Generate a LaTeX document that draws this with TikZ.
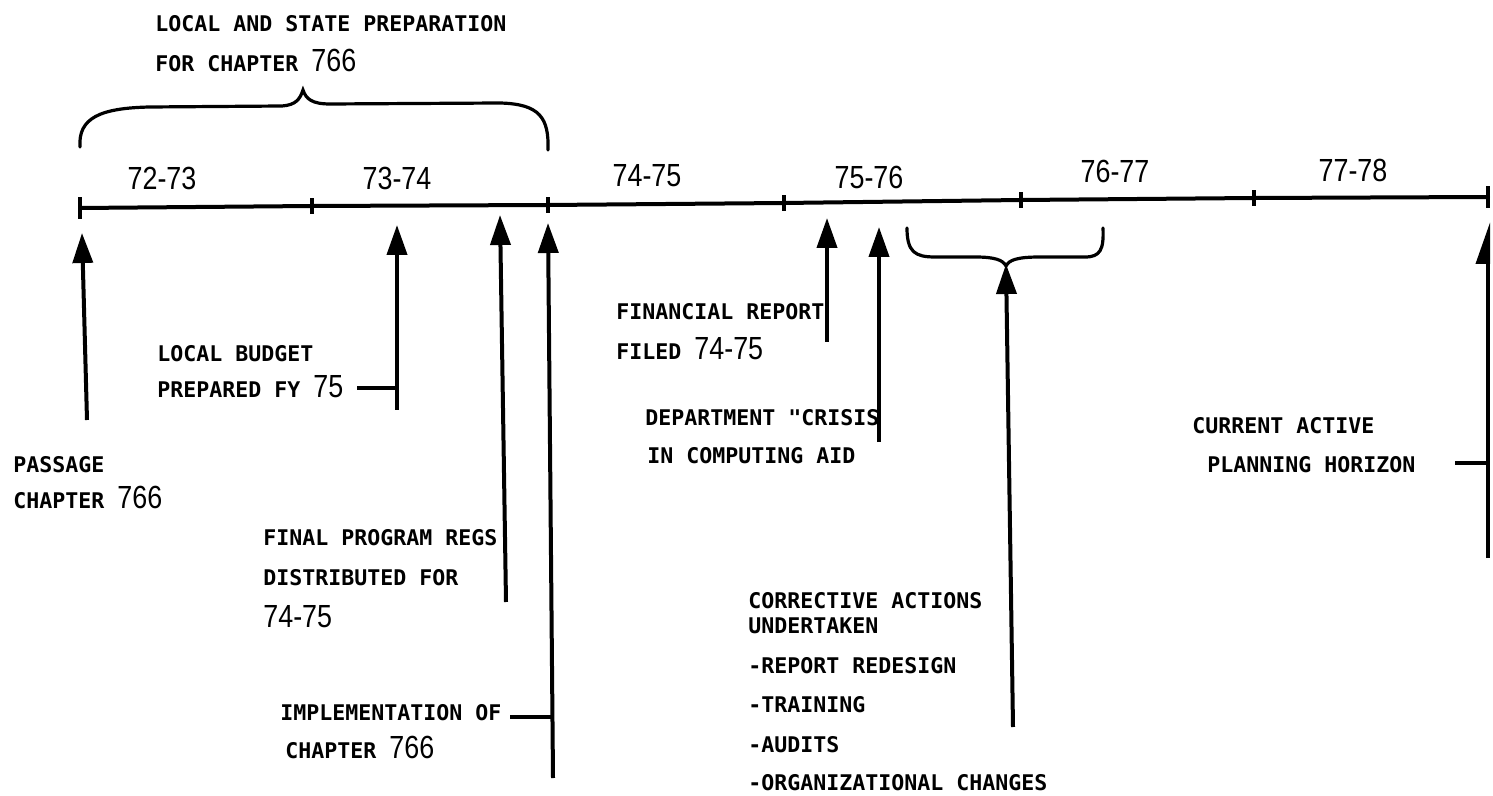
\documentclass[tikz,border=0pt]{standalone}
\usepackage{fontspec}
\usetikzlibrary{arrows.meta}
\newfontfamily\typefont{DejaVu Sans Mono}
\newfontfamily\numfont[FakeStretch=0.84]{Liberation Sans}
\newcommand\nm[1]{{\numfont\mdseries\fontsize{16}{16}\selectfont #1}}
\tikzset{
  lbl/.style={anchor=base west, inner sep=0pt, font=\typefont\bfseries\fontsize{10.8}{12}\selectfont},
  yr/.style={anchor=base, inner sep=0pt, font=\numfont\fontsize{16}{16}\selectfont},
  axis/.style={line width=2pt, line cap=round, line join=round},
  tick/.style={line width=2pt},
  evt/.style={line width=2pt, -{Triangle[length=15pt,width=10pt]}},
  half/.style={line width=2pt, -{Triangle[length=18pt,width=12pt,harpoon]}},
  brc/.style={line width=1.6pt, line cap=round},
  dsh/.style={line width=1.6pt}
}
\begin{document}
\begin{tikzpicture}[x=0.5pt,y=-0.5pt]
\useasboundingbox (0,0) rectangle (1493,796);
% timeline points
\coordinate (t0) at (80,208);
\coordinate (t1) at (312,206);
\coordinate (t2) at (548,205);
\coordinate (t3) at (784,203);
\coordinate (t4) at (1021,200);
\coordinate (t5) at (1254,198);
\coordinate (t6) at (1488,197);
\draw[axis] (t0) -- (t1) -- (t2) -- (t3) -- (t4) -- (t5) -- (t6);
\foreach \t in {t0,t6} \draw[tick] ([yshift=-5.5pt]\t) -- ([yshift=5.5pt]\t);
\foreach \t in {t1,t2,t3,t4,t5} \draw[tick] ([yshift=-4pt]\t) -- ([yshift=4pt]\t);
% year labels
\node[yr] (y1) at (162,190) {72-73};
\node[yr] (y2) at (397,190) {73-74};
\node[yr] (y3) at (647,187) {74-75};
\node[yr] (y4) at (869,189) {75-76};
\node[yr] (y5) at (1115,183) {76-77};
\node[yr] (y6) at (1353,182) {77-78};
% top brace and title
\node[lbl] (ttl1) at (155,32) {LOCAL AND STATE PREPARATION};
\node[lbl] (ttl2) at (155,72) {FOR CHAPTER \nm{766}};
\coordinate (b1l) at (80,147);
\coordinate (b1m) at (303,90);
\coordinate (b1r) at (548,150);
\draw[brc] (b1l) .. controls (78,118) and (100,108) .. (150,107) -- (282,106)
  .. controls (296,105) and (300,99) .. (b1m)
  .. controls (306,99) and (312,104) .. (330,104) -- (500,103)
  .. controls (540,104) and (549,118) .. (b1r);
% second brace
\coordinate (b2l) at (907,228);
\coordinate (b2m) at (1006,266);
\coordinate (b2r) at (1103,228);
\draw[brc] (b2l) .. controls (907,252) and (915,257) .. (935,257) -- (975,257)
  .. controls (995,257) and (1003,260) .. (b2m)
  .. controls (1009,260) and (1017,257) .. (1040,257) -- (1085,257)
  .. controls (1100,257) and (1104,250) .. (b2r);
% event arrows
\coordinate (a1b) at (87,420);  \coordinate (a1t) at (82,233);
\coordinate (a2b) at (397,410); \coordinate (a2t) at (397,225);
\coordinate (a3b) at (506,602); \coordinate (a3t) at (500,215);
\coordinate (a4b) at (553,778); \coordinate (a4t) at (548,223);
\coordinate (a5b) at (827,342); \coordinate (a5t) at (827,218);
\coordinate (a6b) at (879,442); \coordinate (a6t) at (879,227);
\coordinate (a7b) at (1013,727); \coordinate (a7t) at (1006,264);
\coordinate (a8b) at (1488,558); \coordinate (a8t) at (1488,222);
\draw[evt] (a1b) -- (a1t);
\draw[evt] (a2b) -- (a2t);
\draw[evt] (a3b) -- (a3t);
\draw[evt] (a4b) -- (a4t);
\draw[evt] (a5b) -- (a5t);
\draw[evt] (a6b) -- (a6t);
\draw[evt] (a7b) -- (a7t);
\draw[half] (a8b) -- (a8t);
% labels
\node[lbl] (pass1) at (13,472) {PASSAGE};
\node[lbl] (pass2) at (13,508) {CHAPTER \nm{766}};
\node[lbl] (bud1) at (157,362) {LOCAL BUDGET};
\node[lbl] (bud2) at (157,398) {PREPARED FY \nm{75}};
\node[lbl] (reg1) at (263,545) {FINAL PROGRAM REGS};
\node[lbl] (reg2) at (263,585) {DISTRIBUTED FOR};
\node[lbl] (reg3) at (263,627) {\nm{74-75}};
\node[lbl] (imp1) at (280,720) {IMPLEMENTATION OF};
\node[lbl] (imp2) at (285,758) {CHAPTER \nm{766}};
\node[lbl] (fin1) at (616,320) {FINANCIAL REPORT};
\node[lbl] (fin2) at (616,360) {FILED \nm{74-75}};
\node[lbl] (cri1) at (645,425) {DEPARTMENT "CRISIS};
\node[lbl] (cri2) at (647,463) {IN COMPUTING AID};
\node[lbl] (hor1) at (1192,433) {CURRENT ACTIVE};
\node[lbl] (hor2) at (1207,472) {PLANNING HORIZON};
\node[lbl] (cor1) at (748,608) {CORRECTIVE ACTIONS};
\node[lbl] (cor2) at (748,633) {UNDERTAKEN};
\node[lbl] (cor3) at (748,673) {-REPORT REDESIGN};
\node[lbl] (cor4) at (748,712) {-TRAINING};
\node[lbl] (cor5) at (748,752) {-AUDITS};
\node[lbl] (cor6) at (748,790) {-ORGANIZATIONAL CHANGES};
% pointer dashes
\coordinate (d1) at (357,388);
\coordinate (d2) at (510,717);
\coordinate (d2e) at (552,717);
\coordinate (d3) at (1455,463);
\draw[dsh] (d1) -- (a2b |- d1);
\draw[dsh] (d2) -- (d2e);
\draw[dsh] (d3) -- (a8b |- d3);
\end{tikzpicture}
\end{document}
